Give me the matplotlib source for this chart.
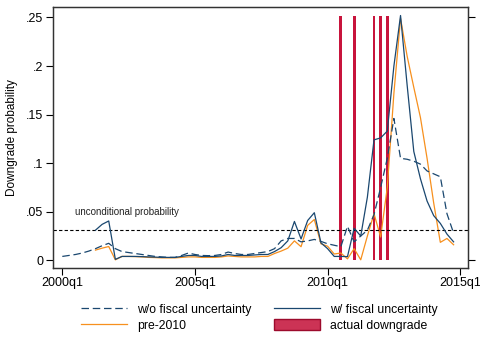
import matplotlib
matplotlib.use("Agg")
import matplotlib.pyplot as plt
import numpy as np

plt.rcParams["font.family"] = ["Liberation Sans", "DejaVu Sans"]

# quarter index: 0 = 2000q1
tick_pos = [0, 20, 40, 60]
tick_labels = ["2000q1", "2005q1", "2010q1", "2015q1"]
ytick_vals = [0, 0.05, 0.1, 0.15, 0.2, 0.25]
ytick_labels = ["0", ".05", ".1", ".15", ".2", ".25"]

wo_fiscal = [
    0.004, 0.005, 0.006, 0.0075, 0.0095, 0.012, 0.015, 0.0175, 0.012,
    0.009, 0.008, 0.007, 0.006, 0.005, 0.004, 0.0035, 0.003, 0.003, 0.005, 0.0075,
    0.006, 0.005, 0.0048, 0.005, 0.006, 0.0085, 0.007, 0.006, 0.006, 0.007,
    0.008, 0.009, 0.012, 0.02, 0.0225, 0.0225, 0.019, 0.02, 0.0215, 0.0195,
    0.017, 0.0155, 0.014, 0.035, 0.019, 0.025, 0.031, 0.047, 0.075, 0.105,
    0.146, 0.105, 0.104, 0.102, 0.099, 0.092, 0.089, 0.086, 0.048, 0.028,
]
w_fiscal = [
    0.031, 0.037, 0.0405, 0.001, 0.004,
    0.004, 0.004, 0.0038, 0.0035, 0.0033, 0.003, 0.003, 0.003, 0.004, 0.005,
    0.005, 0.004, 0.004, 0.004, 0.0045, 0.006, 0.005, 0.005, 0.005, 0.0055,
    0.006, 0.006, 0.009, 0.013, 0.02, 0.040, 0.022, 0.041, 0.049, 0.018,
    0.012, 0.004, 0.004, 0.0038, 0.033, 0.025, 0.065, 0.124, 0.126, 0.133,
    0.2, 0.252, 0.18, 0.112, 0.084, 0.061, 0.046, 0.038, 0.027, 0.019,
]
pre_2010 = [
    0.0105, 0.0125, 0.0142, 0.0005, 0.004,
    0.004, 0.0038, 0.0035, 0.003, 0.0028, 0.0025, 0.0025, 0.0025, 0.003, 0.0035,
    0.0035, 0.003, 0.003, 0.003, 0.0035, 0.0045, 0.004, 0.0035, 0.0035, 0.0035,
    0.004, 0.004, 0.007, 0.0095, 0.0125, 0.020, 0.014, 0.036, 0.042, 0.017,
    0.0145, 0.0065, 0.0075, 0.0015, 0.012, 0.0005, 0.025, 0.048, 0.024, 0.075,
    0.172, 0.249, 0.21, 0.178, 0.147, 0.105, 0.059, 0.0185, 0.0225, 0.016,
]
downgrade_q = [42, 44, 47, 48, 49]
uncond_prob = 0.031

t_wo = np.arange(0, 60)
t_w = np.arange(5, 60)

navy = "#1a476f"
orange = "#f7901e"
red = "#c8143c"

fig = plt.figure(figsize=(4.8, 3.38), dpi=100)
ax = fig.add_axes([0.111, 0.208, 0.863, 0.772])

bars = ax.bar(downgrade_q, [0.252] * len(downgrade_q), width=0.42, color=red,
              zorder=1)
l_wo, = ax.plot(t_wo, wo_fiscal, color=navy, lw=0.9, dashes=(6, 3), zorder=3)
l_w, = ax.plot(t_w, w_fiscal, color=navy, lw=0.9, zorder=3)
l_pre, = ax.plot(t_w, pre_2010, color=orange, lw=0.9, zorder=2)
ax.axhline(uncond_prob, color="black", lw=0.8, dashes=(3, 2), zorder=2)
ax.text(1.9, 0.0497, "unconditional probability", fontsize=7, va="center",
        ha="left", color="#222222")

ax.set_xlim(-1.36, 61.1)
ax.set_ylim(-0.0076, 0.261)
ax.set_xticks(tick_pos)
ax.set_xticklabels(tick_labels, fontsize=9)
ax.set_yticks(ytick_vals)
ax.set_yticklabels(ytick_labels, fontsize=9)
ax.tick_params(axis="both", direction="out", length=5, width=0.8, pad=2)
ax.set_ylabel("Downgrade probability", fontsize=8.5, labelpad=6)

ax2 = ax.twinx()
ax2.set_ylim(ax.get_ylim())
ax2.set_yticks([0, 0.25])
ax2.set_yticklabels(["", ""])
ax2.tick_params(axis="y", direction="out", length=5, width=0.8)

for a in (ax, ax2):
    for s in a.spines.values():
        s.set_linewidth(0.9)
        s.set_color("#333333")

# ncol=2 fills column by column
leg = fig.legend([l_wo, l_pre, l_w, bars],
                 ["w/o fiscal uncertainty", "pre-2010", "w/ fiscal uncertainty",
                  "actual downgrade"],
                 ncol=2, loc="center", bbox_to_anchor=(0.54, 0.061),
                 frameon=False, fontsize=8.8, handlelength=3.8,
                 handleheight=1.0, handletextpad=0.8, columnspacing=1.8,
                 labelspacing=0.3)
leg.legend_handles[3].set_edgecolor("#9c0a2c")
leg.legend_handles[3].set_facecolor("#cc3355")

fig.savefig("out.png", dpi=100)
